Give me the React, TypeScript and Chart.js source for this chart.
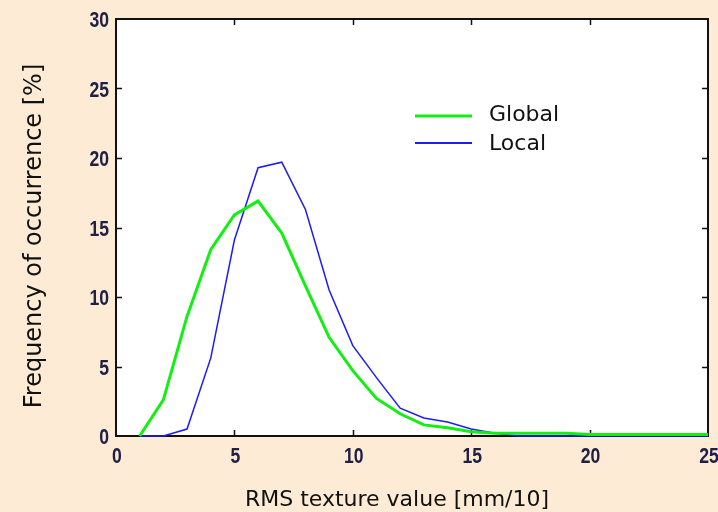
import React, { useEffect, useRef } from "react";
import { Chart, registerables } from "chart.js";

Chart.register(...registerables);

// RMS texture value bins [mm/10]
const rmsValues = [1, 2, 3, 4, 5, 6, 7, 8, 9, 10, 11, 12, 13, 14, 15, 16, 17, 18, 19, 20, 21, 22, 23, 24, 25];

// Frequency of occurrence [%] per bin
const globalFreq = [0, 2.6, 8.6, 13.4, 15.9, 16.9, 14.6, 10.8, 7.1, 4.7, 2.7, 1.6, 0.8, 0.6, 0.3, 0.2, 0.2, 0.2, 0.2, 0.1, 0.1, 0.1, 0.1, 0.1, 0.1];
const localFreq = [0, 0, 0.5, 5.6, 14.1, 19.3, 19.7, 16.3, 10.5, 6.5, 4.2, 2.0, 1.3, 1.0, 0.5, 0.2, 0, 0, 0, 0, 0, 0, 0, 0, 0];

const xTickValues = [0, 5, 10, 15, 20, 25];
const yTickValues = [0, 5, 10, 15, 20, 25, 30];

const seriesNames = ["Global", "Local"];
const xTitle = "RMS texture value [mm/10]";
const yTitle = "Frequency of occurrence [%]";

const PAGE_BG = "#fdebd5";
const GREEN = "#12f012";
const BLUE = "#1c1cf4";
const TICK_COLOR = "#202044";
const TITLE_FONT = "'DejaVu Sans', Verdana, sans-serif";
const TICK_FONT = "bold 22px 'Liberation Sans', Arial, sans-serif";
const TICK_SQUEEZE = 0.8; // narrow-face look for the tick numbers

const frameAndDecor = {
  id: "frameAndDecor",
  beforeDraw(chart: any) {
    const { ctx, width, height, chartArea: a } = chart;
    ctx.save();
    ctx.fillStyle = PAGE_BG;
    ctx.fillRect(0, 0, width, height);
    ctx.fillStyle = "#ffffff";
    ctx.fillRect(a.left, a.top, a.right - a.left, a.bottom - a.top);
    ctx.restore();
  },
  beforeDatasetsDraw(chart: any) {
    const { ctx, chartArea: a, scales } = chart;
    ctx.save();
    ctx.strokeStyle = "#111111";
    ctx.lineWidth = 2;
    ctx.strokeRect(a.left, a.top, a.right - a.left, a.bottom - a.top);
    // inward tick marks on all four sides
    ctx.lineWidth = 1.5;
    const len = 6;
    ctx.beginPath();
    for (const v of xTickValues.slice(1, -1)) {
      const px = Math.round(scales.x.getPixelForValue(v)) + 0.5;
      ctx.moveTo(px, a.bottom);
      ctx.lineTo(px, a.bottom - len);
      ctx.moveTo(px, a.top);
      ctx.lineTo(px, a.top + len);
    }
    for (const v of yTickValues.slice(1, -1)) {
      const py = Math.round(scales.y.getPixelForValue(v)) + 0.5;
      ctx.moveTo(a.left, py);
      ctx.lineTo(a.left + len, py);
      ctx.moveTo(a.right, py);
      ctx.lineTo(a.right - len, py);
    }
    ctx.stroke();
    ctx.restore();
  },
  afterDraw(chart: any) {
    const { ctx, chartArea: a, scales } = chart;
    ctx.save();

    // tick numbers, placed by the scales
    ctx.font = TICK_FONT;
    ctx.fillStyle = TICK_COLOR;
    ctx.textBaseline = "alphabetic";
    ctx.textAlign = "center";
    for (const v of xTickValues) {
      const px = scales.x.getPixelForValue(v);
      ctx.save();
      ctx.translate(px + 1, a.bottom + 27);
      ctx.scale(TICK_SQUEEZE, 1);
      ctx.fillText(String(v), 0, 0);
      ctx.restore();
    }
    ctx.textAlign = "right";
    for (const v of yTickValues) {
      const py = scales.y.getPixelForValue(v);
      ctx.save();
      ctx.translate(a.left - 7, py + 8);
      ctx.scale(TICK_SQUEEZE, 1);
      ctx.fillText(String(v), 0, 0);
      ctx.restore();
    }

    // axis titles
    ctx.fillStyle = "#111111";
    ctx.font = `22px ${TITLE_FONT}`;
    ctx.textAlign = "center";
    ctx.fillText(xTitle, 397, 506);
    ctx.save();
    ctx.translate(41, 236);
    ctx.rotate(-Math.PI / 2);
    ctx.font = `24px ${TITLE_FONT}`;
    ctx.fillText(yTitle, 0, 0);
    ctx.restore();

    // legend inside the plot
    const colors = [GREEN, BLUE];
    const widths = [3, 2];
    const rows = [116, 143];
    const baselines = [121, 150];
    ctx.font = `22px ${TITLE_FONT}`;
    ctx.textAlign = "left";
    seriesNames.forEach((name, i) => {
      ctx.strokeStyle = colors[i];
      ctx.lineWidth = widths[i];
      ctx.beginPath();
      ctx.moveTo(415, rows[i]);
      ctx.lineTo(472, rows[i]);
      ctx.stroke();
      ctx.fillStyle = "#111111";
      ctx.fillText(name, 489, baselines[i]);
    });
    ctx.restore();
  },
};

export default function App() {
  const canvasRef = useRef<HTMLCanvasElement | null>(null);

  useEffect(() => {
    document.body.style.margin = "0";
    document.body.style.background = PAGE_BG;
    const canvas = canvasRef.current;
    if (!canvas) return;

    const chart = new Chart(canvas, {
      type: "line",
      data: {
        datasets: [
          {
            label: seriesNames[0],
            data: rmsValues.map((x, i) => ({ x, y: globalFreq[i] })),
            borderColor: GREEN,
            borderWidth: 3,
            pointRadius: 0,
            tension: 0,
            fill: false,
            clip: false,
          },
          {
            label: seriesNames[1],
            data: rmsValues.map((x, i) => ({ x, y: localFreq[i] })),
            borderColor: BLUE,
            borderWidth: 1.5,
            pointRadius: 0,
            tension: 0,
            fill: false,
            clip: false,
          },
        ],
      },
      options: {
        animation: false,
        responsive: false,
        maintainAspectRatio: false,
        layout: { padding: { top: 19, right: 10, left: 0, bottom: 0 } },
        plugins: {
          legend: { display: false },
          tooltip: { enabled: false },
        },
        scales: {
          x: {
            type: "linear",
            min: 0,
            max: 25,
            afterBuildTicks: (scale: any) => {
              scale.ticks = xTickValues.map((value) => ({ value }));
            },
            afterFit: (scale: any) => {
              scale.height = 76;
              scale.paddingLeft = 0;
              scale.paddingRight = 0;
            },
            grid: { display: false, drawTicks: false },
            border: { display: false },
            ticks: { display: false },
          },
          y: {
            type: "linear",
            min: 0,
            max: 30,
            afterBuildTicks: (scale: any) => {
              scale.ticks = yTickValues.map((value) => ({ value }));
            },
            afterFit: (scale: any) => {
              scale.width = 116;
              scale.paddingTop = 0;
              scale.paddingBottom = 0;
            },
            grid: { display: false, drawTicks: false },
            border: { display: false },
            ticks: { display: false },
          },
        },
      },
      plugins: [frameAndDecor],
    });

    return () => chart.destroy();
  }, []);

  return (
    <div style={{ width: 718, height: 512 }}>
      <canvas ref={canvasRef} width={718} height={512} style={{ display: "block" }} />
    </div>
  );
}
